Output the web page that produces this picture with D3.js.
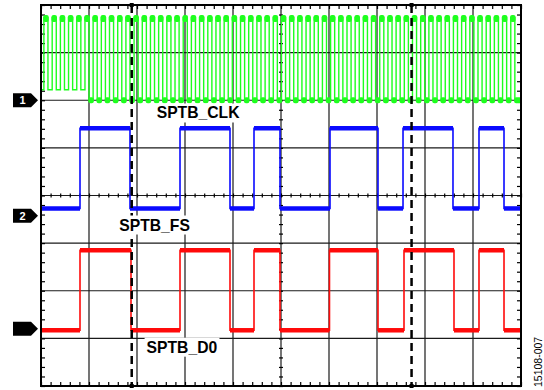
<!DOCTYPE html>
<html>
<head>
<meta charset="utf-8">
<script src="https://cdn.jsdelivr.net/npm/d3@7"></script>
<style>
  body { margin: 0; background: #fff; }
  svg { display: block; }
</style>
</head>
<body>
<div id="chart"></div>
<script>
// time in horizontal divisions, levels in vertical divisions
const timeDivs = [0, 10];
const levelDivs = [-4, 4];

const channelNames = ['SPTB_CLK', 'SPTB_FS', 'SPTB_D0'];
const channelMarkers = ['1', '2', ''];
// ground marker of each channel, in divisions from screen centre
const channelOffsets = [2.0, -0.425, -2.8];

// SPTB_CLK: rising edges
const clkRise = [
  0.06, 0.233, 0.404, 0.574, 0.745, 0.916, 1.086, 1.257, 1.427, 1.598,
  1.769, 1.939, 2.110, 2.280, 2.451, 2.622, 2.792, 2.963, 3.133, 3.304,
  3.475, 3.645, 3.816, 3.986, 4.157, 4.327, 4.498, 4.669, 4.839, 5.010,
  5.180, 5.351, 5.522, 5.692, 5.863, 6.033, 6.204, 6.375, 6.545, 6.716,
  6.886, 7.057, 7.228, 7.398, 7.569, 7.739, 7.910, 8.081, 8.251, 8.422,
  8.592, 8.763, 8.934, 9.104, 9.275, 9.445, 9.616, 9.787
];
const clkHighTime = 0.085;
const clkHigh = 1.74;
// low level of the clock changes after the first division
const clkLowSteps = [[0, 0.22], [0.99, 0]];

// SPTB_FS: edges, starting low
const fsEdges = [0.8125, 1.854, 2.896, 3.9375, 4.4375, 4.979, 6.021, 7.021, 7.542, 8.583, 9.125, 9.646];
const fsLevels = [0.153, 1.837];

// SPTB_D0: edges, starting low
const d0Edges = [0.8125, 1.875, 2.896, 3.9375, 4.4375, 4.979, 6.01, 7.021, 7.5625, 8.604, 9.125, 9.646];
const d0Levels = [-0.03, 1.65];

const cursorTimes = [1.89, 7.72];
const figureId = '15108-007';

const width = 544, height = 390;
const colors = ['#1eff1e', '#0a0aff', '#ff0a0a'];
const labelFont = '"Liberation Sans", Arial, sans-serif';

const svg = d3.select('#chart').append('svg')
  .attr('width', width)
  .attr('height', height);

const x = d3.scaleLinear().domain(timeDivs).range([41, 521]);
const y = d3.scaleLinear().domain(levelDivs).range([386, 5]);

// graticule
const grid = svg.append('g').attr('stroke', '#1a1a1a').attr('stroke-width', 1.2);
d3.range(timeDivs[0] + 1, timeDivs[1]).forEach(t => {
  grid.append('line')
    .attr('x1', x(t)).attr('x2', x(t))
    .attr('y1', y(levelDivs[1])).attr('y2', y(levelDivs[0]));
});
d3.range(levelDivs[0] + 1, levelDivs[1]).forEach(v => {
  grid.append('line')
    .attr('x1', x(timeDivs[0])).attr('x2', x(timeDivs[1]))
    .attr('y1', y(v)).attr('y2', y(v));
});

// minor ticks, 5 per division
const xMinor = d3.range(timeDivs[0], timeDivs[1] + 0.001, 0.2);
const yMinor = d3.range(levelDivs[0], levelDivs[1] + 0.001, 0.2);

function ticks(axis, transform) {
  const g = svg.append('g').attr('transform', transform).call(axis);
  g.select('.domain').remove();
  g.selectAll('.tick line').attr('stroke', '#000').attr('stroke-width', 1.2);
  return g;
}
ticks(d3.axisTop(x).tickValues(xMinor).tickSize(-4).tickFormat(''), `translate(0,${y(levelDivs[1])})`);
ticks(d3.axisBottom(x).tickValues(xMinor).tickSize(-4).tickFormat(''), `translate(0,${y(levelDivs[0])})`);
ticks(d3.axisLeft(y).tickValues(yMinor).tickSize(-4).tickFormat(''), `translate(${x(timeDivs[0])},0)`);
ticks(d3.axisRight(y).tickValues(yMinor).tickSize(-4).tickFormat(''), `translate(${x(timeDivs[1])},0)`);
// centre cross ticks
ticks(d3.axisBottom(x).tickValues(xMinor).tickSize(4).tickFormat(''), `translate(0,${y(0) - 2})`);
ticks(d3.axisRight(y).tickValues(yMinor).tickSize(4).tickFormat(''), `translate(${x(5) - 2},0)`);

const line = d3.line().x(d => x(d[0])).y(d => y(d[1]));

// ---- clock trace
const clkOff = channelOffsets[0];
const lowAt = t => {
  let idx = 0;
  clkLowSteps.forEach((s, i) => { if (t >= s[0]) idx = i; });
  return idx;
};
const clkPts = [[timeDivs[0], clkOff + clkLowSteps[0][1]]];
const clkLows = [];
let lastFall = timeDivs[0];
clkRise.forEach((r, i) => {
  const low = clkLowSteps[lowAt(lastFall)][1];
  const f = r + clkHighTime;
  clkPts.push([r, clkOff + low], [r, clkOff + clkHigh], [f, clkOff + clkHigh]);
  const nextLow = clkLowSteps[lowAt(f)][1];
  clkPts.push([f, clkOff + nextLow]);
  const next = i + 1 < clkRise.length ? clkRise[i + 1] : timeDivs[1];
  clkLows.push({start: f, end: next, step: lowAt(f)});
  lastFall = f;
});
clkPts.push([timeDivs[1], clkOff + clkLowSteps[lowAt(lastFall)][1]]);

const clk = svg.append('g');
clk.append('path')
  .attr('d', line(clkPts))
  .attr('fill', 'none')
  .attr('stroke', colors[0])
  .attr('stroke-width', 1.4);
clk.selectAll('rect.top')
  .data(clkRise)
  .join('rect')
  .attr('class', 'top')
  .attr('x', r => x(r) - 0.7)
  .attr('width', r => x(r + clkHighTime) - x(r) + 1.4)
  .attr('y', y(clkOff + clkHigh) - 2.5)
  .attr('height', 7)
  .attr('rx', 2)
  .attr('fill', colors[0]);
clk.selectAll('rect.low')
  .data(clkLows.filter(d => d.step > 0))
  .join('rect')
  .attr('class', 'low')
  .attr('x', d => x(d.start) - 0.7)
  .attr('width', d => Math.max(0, x(d.end) - x(d.start) + 1.4))
  .attr('y', d => y(clkOff + clkLowSteps[d.step][1]) - 3)
  .attr('height', 6)
  .attr('rx', 2)
  .attr('fill', colors[0]);

// ---- frame sync and data traces
function drawSteps(edges, levels, offset, color) {
  const pts = [[timeDivs[0], offset + levels[0]]];
  const segs = [];
  let state = 0, from = timeDivs[0];
  edges.forEach(e => {
    pts.push([e, offset + levels[state]]);
    segs.push([[from, offset + levels[state]], [e, offset + levels[state]]]);
    state = 1 - state;
    pts.push([e, offset + levels[state]]);
    from = e;
  });
  pts.push([timeDivs[1], offset + levels[state]]);
  segs.push([[from, offset + levels[state]], [timeDivs[1], offset + levels[state]]]);

  const g = svg.append('g');
  g.append('path')
    .attr('d', line(pts))
    .attr('fill', 'none')
    .attr('stroke', color)
    .attr('stroke-width', 1.6);
  g.selectAll('path.level')
    .data(segs)
    .join('path')
    .attr('class', 'level')
    .attr('d', line)
    .attr('fill', 'none')
    .attr('stroke', color)
    .attr('stroke-width', 4.5);
}
drawSteps(fsEdges, fsLevels, channelOffsets[1], colors[1]);
drawSteps(d0Edges, d0Levels, channelOffsets[2], colors[2]);

// ---- cursors
const cur = svg.append('g');
cursorTimes.forEach(t => {
  cur.append('line')
    .attr('x1', x(t)).attr('x2', x(t))
    .attr('y1', y(levelDivs[1])).attr('y2', y(levelDivs[0]))
    .attr('stroke', '#000')
    .attr('stroke-width', 2.5)
    .attr('stroke-dasharray', '8,5');
  [levelDivs[1], levelDivs[0]].forEach(v => {
    cur.append('rect')
      .attr('x', x(t) - 2).attr('y', y(v) - 2)
      .attr('width', 4).attr('height', 4)
      .attr('fill', '#000');
  });
});

// frame
svg.append('rect')
  .attr('x', x(timeDivs[0])).attr('y', y(levelDivs[1]))
  .attr('width', x(timeDivs[1]) - x(timeDivs[0]))
  .attr('height', y(levelDivs[0]) - y(levelDivs[1]))
  .attr('fill', 'none')
  .attr('stroke', '#000')
  .attr('stroke-width', 2);

// channel markers
channelOffsets.forEach((off, i) => {
  const cy = y(off);
  svg.append('path')
    .attr('d', `M13,${cy - 7}H31L38,${cy}L31,${cy + 7}H13Z`)
    .attr('fill', '#000');
  if (channelMarkers[i]) {
    svg.append('text')
      .attr('x', 22.5).attr('y', cy + 4)
      .attr('text-anchor', 'middle')
      .attr('font-family', labelFont)
      .attr('font-weight', 'bold')
      .attr('font-size', 11)
      .attr('fill', '#fff')
      .text(channelMarkers[i]);
  }
});

// trace labels with white backing
const labelPos = [[2.41, 1.617], [1.63, -0.735], [2.2, -3.3]];
channelNames.forEach((name, i) => {
  const g = svg.append('g');
  const bg = g.append('rect').attr('fill', '#fff');
  const txt = g.append('text')
    .attr('x', x(labelPos[i][0]))
    .attr('y', y(labelPos[i][1]))
    .attr('font-family', labelFont)
    .attr('font-weight', 'bold')
    .attr('font-size', 15.7)
    .attr('fill', '#000')
    .text(name);
  const b = txt.node().getBBox();
  bg.attr('x', b.x - 2).attr('y', b.y - 1)
    .attr('width', b.width + 4).attr('height', b.height + 2);
});

// figure id
svg.append('text')
  .attr('transform', `translate(541.5,387) rotate(-90)`)
  .attr('font-family', labelFont)
  .attr('font-size', 10.5)
  .attr('fill', '#000')
  .text(figureId);
</script>
</body>
</html>
